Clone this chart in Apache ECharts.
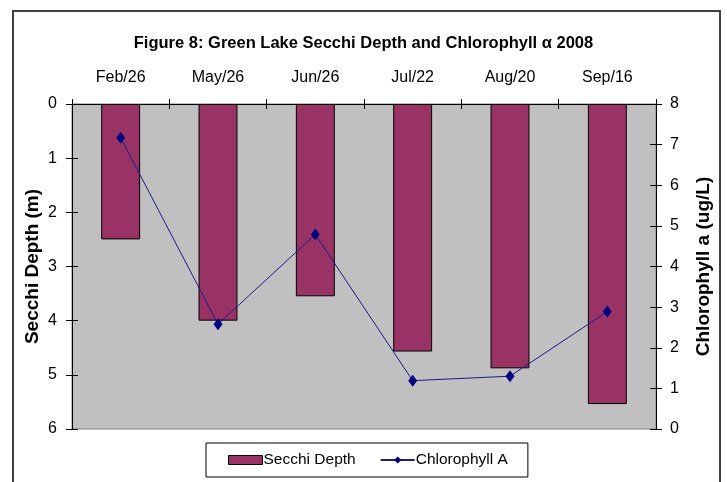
<!DOCTYPE html>
<html>
<head>
<meta charset="utf-8">
<script src="https://cdn.jsdelivr.net/npm/echarts@6/dist/echarts.min.js"></script>
<style>
html,body{margin:0;padding:0;background:#fff;}
#main{width:727px;height:482px;}
</style>
</head>
<body>
<div id="main"></div>
<script>
const categories = ['Feb/26', 'May/26', 'Jun/26', 'Jul/22', 'Aug/20', 'Sep/16'];
const secchiDepth = [2.5, 4.0, 3.55, 4.57, 4.88, 5.54];
const chlorophyllA = [7.17, 2.58, 4.79, 1.19, 1.30, 2.89];
const leftTicks = [0, 6, 1];
const rightTicks = [0, 8, 1];

const sans = '"Liberation Sans", Arial, sans-serif';
const chart = echarts.init(document.getElementById('main'));
const tickStyle = { color: '#000', width: 1 };
const gridBox = { left: 72, right: 71, top: 104, bottom: 53 };
chart.setOption({
  animation: false,
  backgroundColor: '#fff',
  title: {
    text: 'Figure 8: Green Lake Secchi Depth and Chlorophyll α 2008',
    left: 'center', top: 30,
    textStyle: { fontFamily: sans, fontWeight: 'bold', fontSize: 16.5, color: '#000' }
  },
  grid: [
    Object.assign({ show: true, backgroundColor: '#C0C0C0', borderColor: '#808080', borderWidth: 1 }, gridBox),
    Object.assign({ show: false }, gridBox)
  ],
  legend: {
    left: 206, top: 443,
    padding: [9, 20, 9, 22],
    itemGap: 24, itemWidth: 34, itemHeight: 9,
    borderColor: '#000', borderWidth: 1, backgroundColor: '#fff',
    textStyle: { fontFamily: sans, fontSize: 15.5, color: '#000', padding: [0, 0, 0, -4] },
    data: [
      { name: 'Secchi Depth', icon: 'rect', itemStyle: { color: '#993366', borderColor: '#000', borderWidth: 1 } },
      { name: 'Chlorophyll A' }
    ]
  },
  xAxis: [
    {
      type: 'category', data: categories, position: 'top', gridIndex: 0,
      axisLine: { show: true, lineStyle: { color: '#000', width: 1 } },
      axisTick: { show: true, length: 5, lineStyle: tickStyle },
      axisLabel: { color: '#000', fontFamily: sans, fontSize: 16, margin: 18 },
      splitLine: { show: false }
    },
    {
      type: 'category', data: categories, position: 'top', gridIndex: 1, z: 5,
      axisLine: { show: false },
      axisTick: { show: true, inside: true, length: 5, lineStyle: tickStyle },
      axisLabel: { show: false },
      splitLine: { show: false }
    }
  ],
  yAxis: [
    {
      type: 'value', inverse: true, min: leftTicks[0], max: leftTicks[1], interval: leftTicks[2],
      position: 'left', gridIndex: 0,
      name: 'Secchi Depth (m)', nameLocation: 'middle', nameGap: 30, nameRotate: 90,
      nameMoveOverlap: false,
      nameTextStyle: { fontFamily: sans, fontWeight: 'bold', fontSize: 19, color: '#000' },
      axisLine: { show: true, lineStyle: { color: '#000', width: 1 } },
      axisTick: { show: true, length: 6, lineStyle: tickStyle },
      axisLabel: { color: '#000', fontFamily: sans, fontSize: 16, margin: 15 },
      splitLine: { show: false }
    },
    {
      type: 'value', min: rightTicks[0], max: rightTicks[1], interval: rightTicks[2],
      position: 'right', gridIndex: 0,
      name: 'Chlorophyll a (ug/L)', nameLocation: 'middle', nameGap: 38, nameRotate: 90,
      nameMoveOverlap: false,
      nameTextStyle: { fontFamily: sans, fontWeight: 'bold', fontSize: 19, color: '#000' },
      axisLine: { show: true, lineStyle: { color: '#000', width: 1 } },
      axisTick: { show: true, length: 6, lineStyle: tickStyle },
      axisLabel: { color: '#000', fontFamily: sans, fontSize: 16, margin: 14 },
      splitLine: { show: false }
    },
    {
      type: 'value', inverse: true, min: leftTicks[0], max: leftTicks[1], interval: leftTicks[2],
      position: 'left', gridIndex: 1, z: 5,
      axisLine: { show: false },
      axisTick: { show: true, inside: true, length: 6, lineStyle: tickStyle },
      axisLabel: { show: false },
      splitLine: { show: false }
    },
    {
      type: 'value', min: rightTicks[0], max: rightTicks[1], interval: rightTicks[2],
      position: 'right', gridIndex: 1, z: 5,
      axisLine: { show: false },
      axisTick: { show: true, inside: true, length: 6, lineStyle: tickStyle },
      axisLabel: { show: false },
      splitLine: { show: false }
    }
  ],
  series: [
    {
      name: 'Secchi Depth', type: 'bar', data: secchiDepth,
      xAxisIndex: 0, yAxisIndex: 0, barWidth: '40%',
      itemStyle: { color: '#993366', borderColor: '#000', borderWidth: 1 }
    },
    {
      name: 'Chlorophyll A', type: 'line', data: chlorophyllA,
      xAxisIndex: 0, yAxisIndex: 1,
      symbol: 'diamond', symbolSize: [9, 12],
      lineStyle: { color: '#1A1A8A', width: 1 },
      itemStyle: { color: '#000080' }
    }
  ],
  graphic: [
    {
      type: 'rect', shape: { x: 13, y: 11, width: 707, height: 490 },
      style: { fill: null, stroke: '#404040', lineWidth: 2 }, silent: true, z: -1
    }
  ]
});
</script>
</body>
</html>
